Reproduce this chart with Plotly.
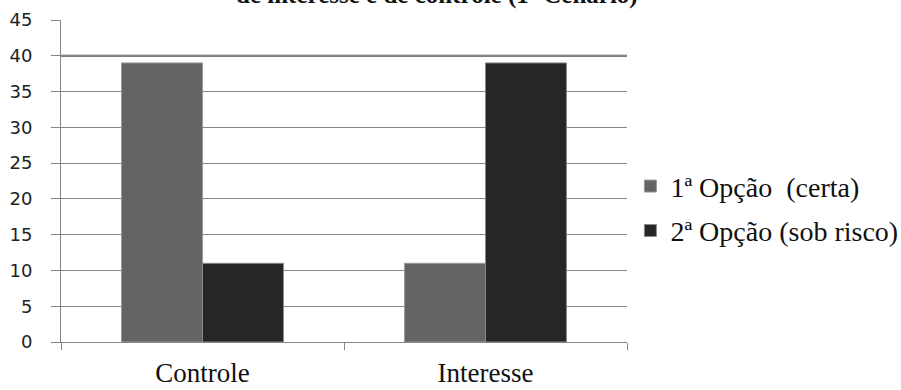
import plotly.graph_objects as go

# Grupos e respostas por opção
categorias = ["Controle", "Interesse"]
opcao_certa = [39, 11]
opcao_risco = [11, 39]
nomes = ["1ª Opção  (certa)", "2ª Opção (sob risco)"]
y_ticks = [0, 5, 10, 15, 20, 25, 30, 35, 40, 45]
titulo = "de interesse e de controle (1º Cenário)"

serif = "Liberation Serif, Times New Roman, serif"
sans = "DejaVu Sans, Arial, sans-serif"

fig = go.Figure()
fig.add_trace(go.Bar(
    x=categorias, y=opcao_certa, name=nomes[0], legendgroup="a",
    marker=dict(color="#646464", line=dict(color="#9a9a9a", width=1)),
))
fig.add_trace(go.Bar(
    x=categorias, y=opcao_risco, name=nomes[1], legendgroup="b",
    marker=dict(color="#262626", line=dict(color="#8a8a8a", width=1)),
))

fig.update_layout(
    width=901, height=390,
    margin=dict(l=61, r=274, t=20, b=48, autoexpand=False),
    paper_bgcolor="white", plot_bgcolor="white",
    barmode="group", bargap=0.428, bargroupgap=0,
    showlegend=True,
    legend=dict(
        x=1.006, xanchor="left", xref="paper", y=0.415, yanchor="middle",
        font=dict(family=serif, size=28, color="#111"),
        traceorder="grouped", tracegroupgap=5,
        itemwidth=30, bgcolor="rgba(0,0,0,0)",
    ),
    xaxis=dict(
        showline=True, linecolor="#868686", linewidth=1,
        ticks="outside", tickson="boundaries", ticklen=7, tickcolor="#868686",
        tickfont=dict(family=serif, size=27, color="#111"),
        ticklabelstandoff=7, automargin=False,
        showgrid=False,
    ),
    yaxis=dict(
        range=[0, 45], tickvals=y_ticks,
        showline=True, linecolor="#868686", linewidth=1,
        ticks="outside", ticklen=9, tickcolor="#868686",
        showgrid=True, gridcolor="#868686", gridwidth=1,
        tickfont=dict(family=sans, size=18, color="#222"),
        ticklabelstandoff=15, zeroline=False, automargin=False,
    ),
    annotations=[dict(
        text="<b>" + titulo + "</b>", xref="paper", yref="paper", x=0.665, y=1,
        xanchor="center", yanchor="bottom", yshift=9, showarrow=False,
        font=dict(family=serif, size=25, color="#111"),
    )],
    shapes=[dict(
        type="line", xref="paper", yref="y", x0=0, x1=1, y0=40, y1=40,
        line=dict(color="#555555", width=2), layer="below",
    )],
)

fig.write_html("out.html")
